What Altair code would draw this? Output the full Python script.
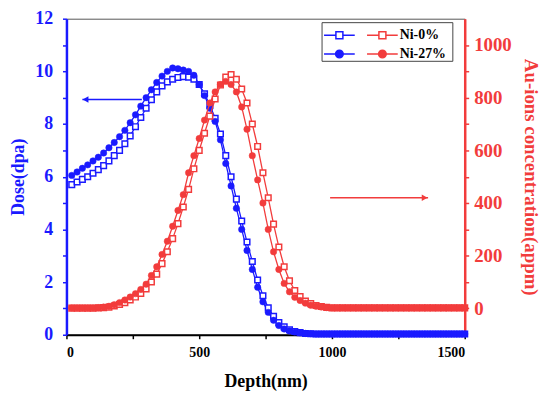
import altair as alt
import pandas as pd

BLUE = "#1a1aff"
RED = "#f23c3c"
SERIF = "Liberation Serif"

depth = [20, 40, 60, 80, 100, 120, 140, 160, 180, 200,
         220, 240, 260, 280, 300, 320, 340, 360, 380, 400,
         420, 440, 460, 480, 500, 520, 540, 560, 580, 600,
         620, 640, 660, 680, 700, 720, 740, 760, 780, 800,
         820, 840, 860, 880, 900, 920, 940, 960, 980, 1000,
         1020, 1040, 1060, 1080, 1100, 1120, 1140, 1160, 1180, 1200,
         1220, 1240, 1260, 1280, 1300, 1320, 1340, 1360, 1380, 1400,
         1420, 1440, 1460, 1480, 1500]

dose_ni0 = [5.70, 5.80, 5.90, 6.00, 6.13, 6.27, 6.42, 6.60, 6.80, 7.00,
            7.25, 7.55, 7.90, 8.25, 8.60, 8.92, 9.22, 9.45, 9.60, 9.70,
            9.77, 9.80, 9.78, 9.70, 9.50, 9.15, 8.72, 8.22, 7.62, 6.80,
            6.00, 5.15, 4.32, 3.52, 2.78, 2.08, 1.48, 1.02, 0.70, 0.46,
            0.30, 0.19, 0.12, 0.08, 0.05, 0.04, 0.03, 0.03, 0.03, 0.03,
            0.03, 0.03, 0.03, 0.03, 0.03, 0.03, 0.03, 0.03, 0.03, 0.03,
            0.03, 0.03, 0.03, 0.03, 0.03, 0.03, 0.03, 0.03, 0.03, 0.03,
            0.03, 0.03, 0.03, 0.03, 0.03]

dose_ni27 = [6.05, 6.18, 6.32, 6.45, 6.60, 6.74, 6.90, 7.10, 7.30, 7.52,
             7.76, 8.05, 8.35, 8.68, 9.00, 9.30, 9.58, 9.82, 10.00, 10.13,
             10.10, 10.05, 10.00, 9.85, 9.50, 9.08, 8.60, 8.10, 7.40, 6.50,
             5.65, 4.80, 4.00, 3.20, 2.48, 1.80, 1.25, 0.85, 0.55, 0.35,
             0.22, 0.14, 0.10, 0.07, 0.05, 0.04, 0.03, 0.03, 0.03, 0.03,
             0.03, 0.03, 0.03, 0.03, 0.03, 0.03, 0.03, 0.03, 0.03, 0.03,
             0.03, 0.03, 0.03, 0.03, 0.03, 0.03, 0.03, 0.03, 0.03, 0.03,
             0.03, 0.03, 0.03, 0.03, 0.03]

conc_ni0 = [1, 1, 1, 1, 1, 2, 3, 5, 9, 15,
            22, 32, 43, 57, 74, 100, 130, 170, 215, 265,
            322, 385, 452, 530, 600, 665, 730, 795, 848, 878,
            888, 870, 833, 780, 700, 615, 515, 420, 320, 233,
            158, 105, 68, 45, 28, 18, 11, 7, 4, 2,
            2, 2, 2, 2, 2, 2, 2, 2, 2, 2,
            2, 2, 2, 2, 2, 2, 2, 2, 2, 2,
            2, 2, 2, 2, 2]

conc_ni27 = [2, 2, 2, 2, 2, 3, 5, 8, 14, 22,
             32, 43, 56, 72, 92, 125, 158, 205, 255, 312,
             372, 432, 515, 580, 645, 715, 780, 822, 850, 862,
             850, 822, 765, 680, 580, 488, 400, 300, 215, 148,
             95, 63, 42, 30, 20, 12, 8, 5, 3, 2,
             2, 2, 2, 2, 2, 2, 2, 2, 2, 2,
             2, 2, 2, 2, 2, 2, 2, 2, 2, 2,
             2, 2, 2, 2, 2]

series_names = ["Ni-0%", "Ni-27%"]

n = len(depth)
df = pd.DataFrame({
    "depth": depth + depth,
    "dose": dose_ni0 + dose_ni27,
    "conc": conc_ni0 + conc_ni27,
    "series": [series_names[0]] * n + [series_names[1]] * n,
})

X = alt.X("depth:Q", scale=alt.Scale(domain=[0, 1500], nice=False),
          title="Depth(nm)",
          axis=alt.Axis(values=[0, 250, 500, 750, 1000, 1250, 1500], format="d",
                        labelExpr="datum.value % 500 == 0 ? datum.label : ''",
                        grid=False, domainColor="black", domainWidth=2,
                        tickColor="black", tickWidth=1.5, tickSize=4,
                        labelColor="black", labelFont=SERIF, labelFontSize=14,
                        labelFontWeight="bold", labelPadding=7,
                        titleColor="black", titleFont=SERIF, titleFontSize=18,
                        titleFontWeight="bold", titlePadding=13))

YL = alt.Y("dose:Q", scale=alt.Scale(domain=[0, 12], nice=False),
           title="Dose(dpa)",
           axis=alt.Axis(orient="left", values=list(range(0, 13)),
                         labelExpr="datum.value % 2 == 0 ? datum.label : ''",
                         grid=False, domainColor=BLUE, domainWidth=2.5,
                         tickColor=BLUE, tickWidth=1.5, tickSize=4,
                         labelColor=BLUE, labelFont=SERIF, labelFontSize=18,
                         labelFontWeight="bold", labelPadding=10,
                         titleColor=BLUE, titleFont=SERIF, titleFontSize=18,
                         titleFontWeight="bold", titlePadding=7))

YR = alt.Y("conc:Q", scale=alt.Scale(domain=[-100, 1100], nice=False),
           title="Au-ions concentration(appm)",
           axis=alt.Axis(orient="right", values=[0, 100, 200, 300, 400, 500, 600, 700, 800, 900, 1000],
                         format="d",
                         labelExpr="datum.value % 200 == 0 ? datum.label : ''",
                         grid=False, domainColor=RED, domainWidth=2.5,
                         tickColor=RED, tickWidth=1.5, tickSize=4,
                         labelColor=RED, labelFont=SERIF, labelFontSize=19,
                         labelFontWeight="bold", labelPadding=5,
                         titleColor=RED, titleFont=SERIF, titleFontSize=19,
                         titleFontWeight="bold", titlePadding=9))

SQ_LEG = "M-2.42,0H-0.55M0.55,0H2.42M-0.55,-0.55H0.55V0.55H-0.55Z"
CI_LEG = "M-2.42,0H-0.6M0.6,0H2.42M-0.6,0A0.6,0.6 0 1,0 0.6,0A0.6,0.6 0 1,0 -0.6,0Z"


def group(color, ycol, Y, arrow_df, head_df, head_shape, legend_x, show_labels):
    base = alt.Chart(df)
    lines = base.mark_line(color=color, strokeWidth=1.3).encode(x=X, y=Y, detail="series:N")
    sq = base.transform_filter(alt.datum.series == series_names[0]).mark_point(
        shape="square", filled=True, fill="white", stroke=color, strokeWidth=1.5,
        size=32, opacity=1).encode(x=X, y=Y)
    ci = base.transform_filter(alt.datum.series == series_names[1]).mark_point(
        shape="circle", filled=True, fill=color, stroke=color, strokeWidth=0.5,
        size=42, opacity=1).encode(x=X, y=Y)
    rule = alt.Chart(arrow_df).mark_rule(color=color, strokeWidth=1.5).encode(
        x=X, x2="depth2:Q", y=Y)
    head = alt.Chart(head_df).mark_point(shape=head_shape, filled=True, color=color,
                                         size=45, opacity=1).encode(x=X, y=Y)
    leg = alt.Legend(orient="none", legendX=legend_x, legendY=9.2, title=None,
                     symbolSize=164, symbolStrokeWidth=1.5, symbolOpacity=1,
                     padding=0, rowPadding=4, labelOffset=10,
                     labelOpacity=1 if show_labels else 0,
                     labelColor="black", labelFont=SERIF, labelFontSize=14,
                     labelFontWeight="bold")
    leg_df = pd.DataFrame({"series": series_names,
                           "depth": [None, None], ycol: [None, None]})
    legend_layer = alt.Chart(leg_df).mark_point(filled=True, strokeWidth=1.5, opacity=1).encode(
        x=X, y=Y,
        shape=alt.Shape("series:N", scale=alt.Scale(domain=series_names, range=[SQ_LEG, CI_LEG]), legend=leg),
        fill=alt.Fill("series:N", scale=alt.Scale(domain=series_names, range=["white", color]), legend=leg),
        stroke=alt.Stroke("series:N", scale=alt.Scale(domain=series_names, range=[color, color]), legend=leg),
    )
    return [lines, sq, ci, rule, head, legend_layer]


frame = alt.Chart(pd.DataFrame({"k": [0]})).mark_rect(
    fill="white", stroke="#444", strokeWidth=1).encode(
    x=alt.value(258), x2=alt.value(390), y=alt.value(4), y2=alt.value(43))

arrow_b = pd.DataFrame({"depth": [60], "depth2": [284], "dose": [8.93]})
head_b = pd.DataFrame({"depth": [72], "dose": [8.93]})
arrow_r = pd.DataFrame({"depth": [993], "depth2": [1362], "conc": [420]})
head_r = pd.DataFrame({"depth": [1349], "conc": [420]})

blue = alt.layer(frame, *group(BLUE, "dose", YL, arrow_b, head_b, "triangle-left", 268, False))
red = alt.layer(*group(RED, "conc", YR, arrow_r, head_r, "triangle-right", 311.4, True))

chart = alt.layer(blue, red).resolve_scale(
    y="independent", shape="independent", fill="independent", stroke="independent"
).resolve_legend(
    shape="independent", fill="independent", stroke="independent"
).properties(
    width=402, height=319,
    autosize=alt.AutoSizeParams(type="none"),
    padding={"left": 59, "top": 9, "right": 78, "bottom": 56},
).configure_view(stroke="#555", strokeWidth=1)

chart.save("out.html", embed_options={"renderer": "svg", "actions": False})
